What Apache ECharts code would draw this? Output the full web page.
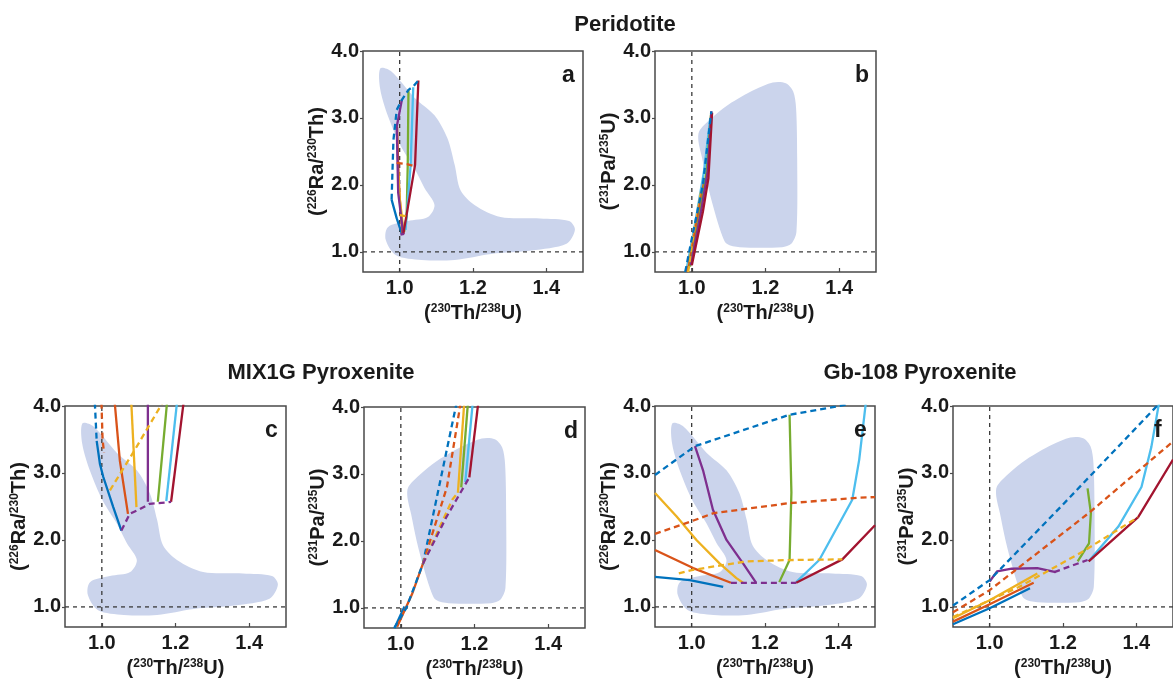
<!DOCTYPE html>
<html><head><meta charset="utf-8">
<script src="https://cdn.jsdelivr.net/npm/echarts@6/dist/echarts.min.js"></script>
<style>html,body{margin:0;padding:0;background:#fff}#c{width:1173px;height:688px}</style>
</head><body><div id="c"></div>
<script>
// ---------------- data ----------------
const xRange = [0.9, 1.5];
const yRange = [0.7, 4.0];
const xTicks = [1.0, 1.2, 1.4];
const yTicks = [1.0, 2.0, 3.0, 4.0];
const refX = 1.0;
const refY = 1.0;

const groupTitles = ['Peridotite', 'MIX1G Pyroxenite', 'Gb-108 Pyroxenite'];
const panelLetters = ['a', 'b', 'c', 'd', 'e', 'f'];
const panelKinds = ['ra', 'pa', 'ra', 'pa', 'ra', 'pa'];

// observed (226Ra/230Th) vs (230Th/238U) field
const raThField = [[0.947,3.74],[0.976,3.70],[1.041,3.30],[1.095,3.04],[1.13,2.70],[1.15,2.30],[1.166,1.92],
  [1.204,1.70],[1.275,1.52],[1.383,1.50],[1.462,1.46],[1.478,1.33],[1.455,1.12],[1.36,1.02],[1.25,0.97],
  [1.15,0.88],[1.06,0.88],[0.99,0.95],[0.962,1.18],[0.968,1.37],[1.022,1.46],[1.077,1.52],[1.095,1.70],
  [1.068,1.95],[1.041,2.24],[1.003,2.58],[0.968,3.03],[0.947,3.43]];
// observed (231Pa/235U) vs (230Th/238U) field
const paUField = [[1.02,2.80],[1.05,2.98],[1.10,3.20],[1.17,3.42],[1.22,3.53],[1.255,3.52],[1.275,3.40],
  [1.283,3.15],[1.286,2.40],[1.284,1.30],[1.27,1.12],[1.245,1.07],[1.13,1.07],[1.095,1.12],[1.08,1.28],
  [1.062,1.60],[1.043,2.00],[1.028,2.40],[1.018,2.65]];

// model curves: solid "paths" and dashed "ties", keyed by model run
const pathsA = {
  blue: [[0.978,1.78],[0.992,1.50],[1.006,1.27]],
  orange: [[0.993,2.87],[0.996,2.30],[0.999,1.90],[1.004,1.50],[1.008,1.28]],
  yellow: [[0.996,2.20],[1.000,1.80],[1.006,1.53],[1.010,1.30]],
  purple: [[1.006,3.27],[0.992,2.87],[0.996,1.88],[1.010,1.26]],
  green: [[1.024,3.42],[1.022,2.30],[1.019,1.53],[1.012,1.30]],
  lightblue: [[1.037,3.46],[1.030,2.30],[1.016,1.33]],
  darkred: [[1.051,3.56],[1.042,2.30],[1.010,1.27]]
};
const tiesA = {
  blue: [[0.978,1.78],[0.983,2.67],[0.992,3.12],[1.006,3.27],[1.024,3.42],[1.037,3.47],[1.051,3.56]],
  orange: [[0.992,2.33],[1.020,2.31],[1.042,2.28]],
  yellow: [[1.000,1.55],[1.022,1.53]],
  purple: [[1.002,1.26],[1.012,1.27]]
};

const pathsB = {
  lightblue: [[0.985,0.72],[1.005,1.30],[1.033,2.20],[1.050,3.00]],
  yellow: [[0.990,0.75],[1.010,1.40],[1.025,1.90]],
  orange: [[0.992,0.78],[1.015,1.50],[1.035,2.10]],
  green: [[0.995,0.78],[1.020,1.50],[1.040,2.20],[1.052,3.05]],
  purple: [[0.997,0.80],[1.025,1.60],[1.043,2.20],[1.053,3.10]],
  darkred: [[1.000,0.80],[1.030,1.60],[1.045,2.10],[1.055,3.08]]
};
const tiesB = {
  orange: [[0.985,0.70],[1.000,1.10]],
  yellow: [[0.990,0.70],[1.000,1.10],[1.010,1.45]],
  blue: [[0.982,0.70],[1.000,1.20],[1.030,2.00],[1.053,3.10]]
};

const pathsC = {
  blue: [[0.986,3.48],[0.995,3.13],[1.004,2.94],[1.031,2.49],[1.053,2.14]],
  orange: [[1.035,4.05],[1.049,3.18],[1.071,2.39]],
  yellow: [[1.080,4.05],[1.094,2.49]],
  purple: [[1.125,4.05],[1.125,2.57]],
  green: [[1.177,4.05],[1.152,2.57]],
  lightblue: [[1.204,4.05],[1.175,2.58]],
  darkred: [[1.222,4.05],[1.188,2.57]]
};
const tiesC = {
  blue: [[0.981,4.05],[0.986,3.48]],
  orange: [[0.999,4.05],[1.002,3.50],[1.006,3.30]],
  yellow: [[1.022,2.74],[1.090,3.35],[1.165,4.05]],
  purple: [[1.053,2.14],[1.076,2.39],[1.103,2.46],[1.130,2.54],[1.175,2.56],[1.188,2.57]]
};

const pathsD = {
  blue: [[0.983,0.70],[1.010,1.02]],
  orange: [[0.990,0.72],[1.030,1.20],[1.060,1.66]],
  yellow: [[1.155,2.72],[1.172,4.05]],
  green: [[1.164,2.80],[1.182,4.05]],
  lightblue: [[1.175,2.88],[1.195,4.05]],
  darkred: [[1.186,2.95],[1.210,4.05]]
};
const tiesD = {
  blue: [[0.982,0.70],[1.015,1.00],[1.060,1.66],[1.151,4.05]],
  orange: [[1.060,1.66],[1.125,2.80],[1.162,4.05]],
  yellow: [[1.060,1.66],[1.140,2.62],[1.155,2.72]],
  purple: [[1.060,1.66],[1.124,2.36],[1.186,2.95]]
};

const pathsE = {
  blue: [[0.900,1.45],[0.995,1.40],[1.086,1.30]],
  orange: [[0.900,1.85],[1.004,1.58],[1.107,1.36]],
  yellow: [[0.900,2.70],[0.959,2.35],[1.013,2.00],[1.076,1.65],[1.122,1.43],[1.140,1.36]],
  purple: [[1.009,3.40],[1.031,3.04],[1.058,2.45],[1.095,2.00],[1.140,1.65],[1.176,1.36]],
  green: [[1.267,3.87],[1.272,2.71],[1.267,1.70],[1.239,1.37]],
  lightblue: [[1.285,1.37],[1.348,1.70],[1.438,2.60],[1.457,3.20],[1.475,4.05]],
  darkred: [[1.285,1.36],[1.411,1.71],[1.500,2.22]]
};
const tiesE = {
  blue: [[0.900,2.97],[1.009,3.40],[1.267,3.87],[1.393,3.99],[1.420,4.02]],
  orange: [[0.900,2.09],[1.000,2.28],[1.060,2.40],[1.267,2.55],[1.457,2.63],[1.500,2.64]],
  yellow: [[0.965,1.50],[1.000,1.55],[1.080,1.62],[1.150,1.68],[1.267,1.70],[1.411,1.71]],
  purple: [[1.107,1.36],[1.176,1.36],[1.239,1.36],[1.285,1.36]]
};

const pathsF = {
  blue: [[0.900,0.74],[1.000,0.98],[1.110,1.28]],
  orange: [[0.900,0.78],[1.000,1.04],[1.120,1.36]],
  yellow: [[0.900,0.83],[1.000,1.10],[1.130,1.50]],
  purple: [[1.000,1.38],[1.020,1.53],[1.060,1.57],[1.130,1.58],[1.180,1.52]],
  green: [[1.267,2.77],[1.276,2.40],[1.271,1.95],[1.240,1.68]],
  lightblue: [[1.270,1.68],[1.351,2.20],[1.414,2.79],[1.441,3.39],[1.462,4.05]],
  darkred: [[1.270,1.68],[1.405,2.34],[1.500,3.20]]
};
const tiesF = {
  blue: [[0.900,1.02],[1.000,1.40],[1.200,2.53],[1.465,4.05]],
  orange: [[0.900,0.92],[1.000,1.25],[1.270,2.40],[1.500,3.47]],
  yellow: [[0.900,0.85],[1.081,1.30],[1.252,1.82],[1.405,2.34]],
  purple: [[1.176,1.52],[1.267,1.70]]
};

const allPaths = [pathsA, pathsB, pathsC, pathsD, pathsE, pathsF];
const allTies = [tiesA, tiesB, tiesC, tiesD, tiesE, tiesF];

// ---------------- styles / layout ----------------
const COLORS = { blue:'#0072BD', orange:'#D95319', yellow:'#EDB120', purple:'#7E2F8E',
  green:'#77AC30', lightblue:'#4DBEEE', darkred:'#A2142F' };
const FIELD_COLOR = '#cbd4ec';
const FONT = 'Liberation Sans, Arial, Helvetica, sans-serif';
const TXT = '#1a1a1a';

const gridBoxes = [
  {left:363, top:51, width:220, height:221},
  {left:655, top:51, width:221, height:221},
  {left:65,  top:406, width:221, height:221},
  {left:364, top:407, width:221, height:221},
  {left:655, top:406, width:220, height:221},
  {left:953, top:406, width:222, height:221}
];
const titlePos = [{x:620, y:9}, {x:316, y:357}, {x:915, y:357}];

const rich = {
  n: {fontSize:20, fontWeight:'bold', fontFamily:FONT, color:TXT, lineHeight:20, verticalAlign:'bottom'},
  s: {fontSize:12, fontWeight:'bold', fontFamily:FONT, color:TXT, lineHeight:12, verticalAlign:'top'}
};
const xName = '{n|(}{s|230}{n|Th/}{s|238}{n|U)}';
const yNames = { ra: '{n|(}{s|226}{n|Ra/}{s|230}{n|Th)}', pa: '{n|(}{s|231}{n|Pa/}{s|235}{n|U)}' };

const grids = [], xAxes = [], yAxes = [], series = [], titles = [];

groupTitles.forEach((t, k) => titles.push({
  text: t, left: titlePos[k].x, top: titlePos[k].y, textAlign: 'center',
  textStyle: {fontSize: 22, fontWeight: 'bold', fontFamily: FONT, color: TXT}
}));

gridBoxes.forEach((g, i) => {
  grids.push(Object.assign({show:true, borderColor:'#4a4a4a', borderWidth:1.5, backgroundColor:'transparent'}, g));
  titles.push({text: panelLetters[i], left: g.left + g.width - 26, top: g.top + 8,
    textStyle:{fontSize:23, fontWeight:'bold', fontFamily:FONT, color:TXT}});
  xAxes.push({
    gridIndex:i, type:'value', min:xRange[0], max:xRange[1],
    axisLine:{show:false}, splitLine:{show:false},
    axisTick:{show:true, inside:true, length:4, customValues:xTicks, lineStyle:{color:'#4a4a4a', width:1.2}},
    axisLabel:{customValues:xTicks, formatter:v => v.toFixed(1), fontSize:20, fontWeight:'bold',
      fontFamily:FONT, color:TXT, margin:6},
    name:xName, nameLocation:'middle', nameGap:31, nameTextStyle:{rich}
  });
  yAxes.push({
    gridIndex:i, type:'value', min:yRange[0], max:yRange[1],
    axisLine:{show:false}, splitLine:{show:false},
    axisTick:{show:true, inside:false, length:3, customValues:yTicks, lineStyle:{color:'#4a4a4a', width:1.2}},
    axisLabel:{customValues:yTicks, formatter:v => v.toFixed(1), fontSize:20, fontWeight:'bold',
      fontFamily:FONT, color:TXT, margin:4},
    name:yNames[panelKinds[i]], nameLocation:'middle', nameGap:36, nameRotate:90, nameTextStyle:{rich}
  });

  const field = panelKinds[i] === 'ra' ? raThField : paUField;
  series.push({
    type:'custom', xAxisIndex:i, yAxisIndex:i, z:1, silent:true, clip:true, data:field,
    renderItem:(params, api) => params.dataIndex !== 0 ? null : {
      type:'polygon', shape:{points: field.map(p => api.coord(p)), smooth:0.3},
      style:{fill:FIELD_COLOR}
    }
  });

  // reference lines at (230Th/238U)=1 and daughter/parent=1
  const refStyle = {color:'#3a3a3a', width:1.3, type:[4,4]};
  series.push({type:'line', xAxisIndex:i, yAxisIndex:i, z:2, silent:true, symbol:'none',
    data:[[refX, yRange[0]], [refX, yRange[1]]], lineStyle:refStyle});
  series.push({type:'line', xAxisIndex:i, yAxisIndex:i, z:2, silent:true, symbol:'none',
    data:[[xRange[0], refY], [xRange[1], refY]], lineStyle:refStyle});

  Object.entries(allPaths[i]).forEach(([k, pts]) => series.push({
    type:'line', xAxisIndex:i, yAxisIndex:i, z:3, silent:true, symbol:'none', data:pts,
    lineStyle:{color:COLORS[k], width:2.3}
  }));
  Object.entries(allTies[i]).forEach(([k, pts]) => series.push({
    type:'line', xAxisIndex:i, yAxisIndex:i, z:4, silent:true, symbol:'none', data:pts,
    lineStyle:{color:COLORS[k], width:2.3, type:[6,4]}
  }));
});

const chart = echarts.init(document.getElementById('c'), null, {renderer:'canvas'});
chart.setOption({
  animation:false, backgroundColor:'#ffffff',
  title:titles, grid:grids, xAxis:xAxes, yAxis:yAxes, series
});
</script></body></html>
